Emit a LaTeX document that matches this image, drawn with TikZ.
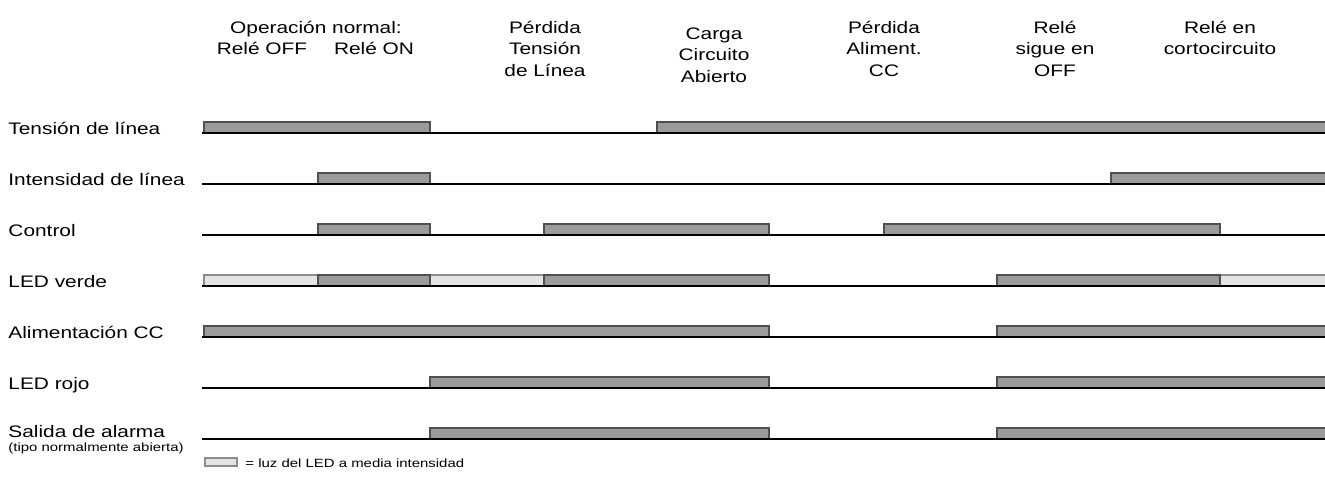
\documentclass[tikz,border=0pt]{standalone}
\usepackage{fontspec}
\setmainfont{Liberation Sans}
\usetikzlibrary{positioning}

\definecolor{barfill}{HTML}{9B9B9B}
\definecolor{baredge}{HTML}{505050}
\definecolor{halffill}{HTML}{E4E4E4}
\definecolor{halfedge}{HTML}{8C8C8C}

\begin{document}
\begin{tikzpicture}[
  x=0.02cm, y=-0.02cm,
  lbl/.style={anchor=base west,inner sep=0pt,xscale=1.25,font=\fontsize{9.5}{12.35}\selectfont},
  hdr/.style={anchor=base,inner sep=0pt,xscale=1.25,align=center,font=\fontsize{9.5}{12.35}\selectfont},
  note/.style={anchor=base west,inner sep=0pt,xscale=1.25,font=\fontsize{6.8}{8.5}\selectfont},
  sigline/.style={line width=0.8pt,black},
  onbar/.style={fill=barfill,draw=baredge,line width=0.6pt},
  halfbar/.style={fill=halffill,draw=halfedge,line width=0.6pt}
]
\useasboundingbox (0,0) rectangle (1325,491);

% column headings (base = last line)
\node[hdr] (opnorm) at (316,33) {Operación normal:};
\node[hdr] (reloff) at (262,54.7) {Relé OFF};
\node[hdr] (relon) at (374,54.7) {Relé ON};
\node[hdr] (perdten) at (545,76.4) {Pérdida\\Tensión\\de Línea};
\node[hdr] (carga) at (714,82.4) {Carga\\Circuito\\Abierto};
\node[hdr] (perdcc) at (884,76.4) {Pérdida\\Aliment.\\CC};
\node[hdr] (sigoff) at (1055,76.4) {Relé\\sigue en\\OFF};
\node[hdr] (corto) at (1220,54.7) {Relé en\\cortocircuito};

% signal names
\node[lbl] (tension) at (8,134.5) {Tensión de línea};
\node[lbl] (intens) at (8,185.5) {Intensidad de línea};
\node[lbl] (control) at (8,236.5) {Control};
\node[lbl] (ledv) at (8,287.5) {LED verde};
\node[lbl] (alim) at (8,338.5) {Alimentación CC};
\node[lbl] (ledr) at (8,389.5) {LED rojo};
\node[lbl] (salida) at (8,437.5) {Salida de alarma};
\node[note] (tipo) at (8,451) {(tipo normalmente abierta)};

% bars
\foreach \a/\b in {204/430,657/1326} \draw[onbar] (\a,133) rectangle (\b,122);
\foreach \a/\b in {318/430,1111/1326} \draw[onbar] (\a,184) rectangle (\b,173);
\foreach \a/\b in {318/430,544/769,884/1220} \draw[onbar] (\a,235) rectangle (\b,224);
\foreach \a/\b in {204/318,430/544,1220/1326} \draw[halfbar] (\a,286) rectangle (\b,275);
\foreach \a/\b in {318/430,544/769,997/1220} \draw[onbar] (\a,286) rectangle (\b,275);
\foreach \a/\b in {204/769,997/1326} \draw[onbar] (\a,337) rectangle (\b,326);
\foreach \a/\b in {430/769,997/1326} \draw[onbar] (\a,388) rectangle (\b,377);
\foreach \a/\b in {430/769,997/1326} \draw[onbar] (\a,439) rectangle (\b,428);

% base lines
\foreach \y in {133,184,235,286,337,388,439}
  \draw[sigline] (202,\y) -- (1326,\y);

% legend
\draw[halfbar] (205,466) rectangle (237,458);
\node[note] (legend) at (245,467.5) {= luz del LED a media intensidad};
\end{tikzpicture}
\end{document}
